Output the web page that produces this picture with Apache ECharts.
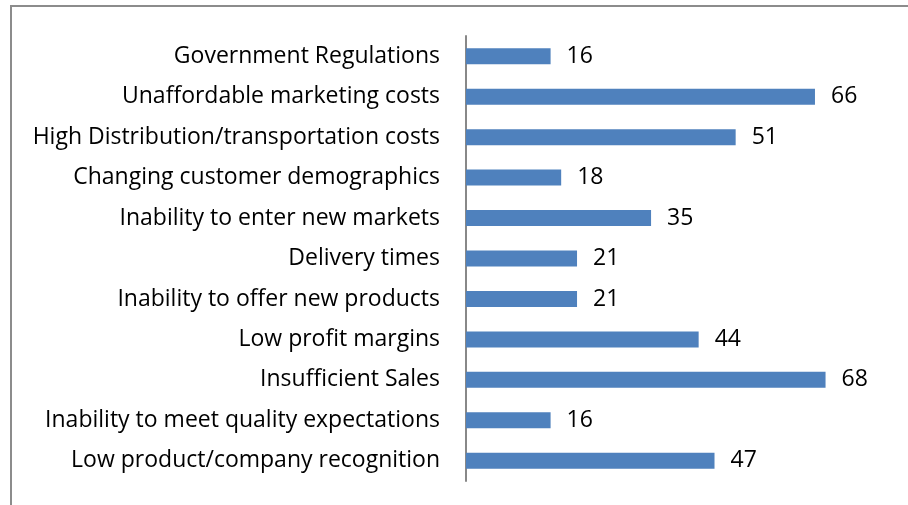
<!DOCTYPE html>
<html>
<head>
<meta charset="utf-8">
<script src="https://cdn.jsdelivr.net/npm/echarts@6/dist/echarts.min.js"></script>
<style>html,body{margin:0;padding:0;background:#fff}#c{width:908px;height:505px}</style>
</head>
<body>
<div id="c"></div>
<script>
var categories = [
  "Low product/company recognition",
  "Inability to meet quality expectations",
  "Insufficient Sales",
  "Low profit margins",
  "Inability to offer new products",
  "Delivery times",
  "Inability to enter new markets",
  "Changing customer demographics",
  "High Distribution/transportation costs",
  "Unaffordable marketing costs",
  "Government Regulations"
];
var values = [47, 16, 68, 44, 21, 21, 35, 18, 51, 66, 16];

var chart = echarts.init(document.getElementById('c'), null, {renderer: 'canvas'});
chart.setOption({
  animation: false,
  backgroundColor: '#fff',
  textStyle: {fontFamily: 'Open Sans'},
  grid: {left: 466, top: 36, right: 19, bottom: 24, containLabel: false},
  xAxis: {
    type: 'value', min: 0, max: 80,
    show: false
  },
  yAxis: {
    type: 'category',
    data: categories,
    axisLine: {show: true, lineStyle: {color: '#888', width: 2}},
    axisTick: {show: false},
    axisLabel: {color: '#000', fontSize: 23, margin: 26, fontFamily: 'Open Sans', padding: [4, 0, 0, 0]},
    splitLine: {show: false}
  },
  series: [{
    type: 'bar',
    data: values,
    barWidth: 16,
    itemStyle: {color: '#4F81BD'},
    label: {show: true, position: 'right', distance: 16, color: '#000', fontSize: 23, fontFamily: 'Open Sans', padding: [4, 0, 0, 0]}
  }],
  graphic: [
    {type: 'line', shape: {x1: 11, y1: 6, x2: 11, y2: 505}, style: {stroke: '#8c8c8c', lineWidth: 2}},
    {type: 'line', shape: {x1: 10, y1: 6, x2: 908, y2: 6}, style: {stroke: '#8c8c8c', lineWidth: 2}}
  ]
});
</script>
</body>
</html>
